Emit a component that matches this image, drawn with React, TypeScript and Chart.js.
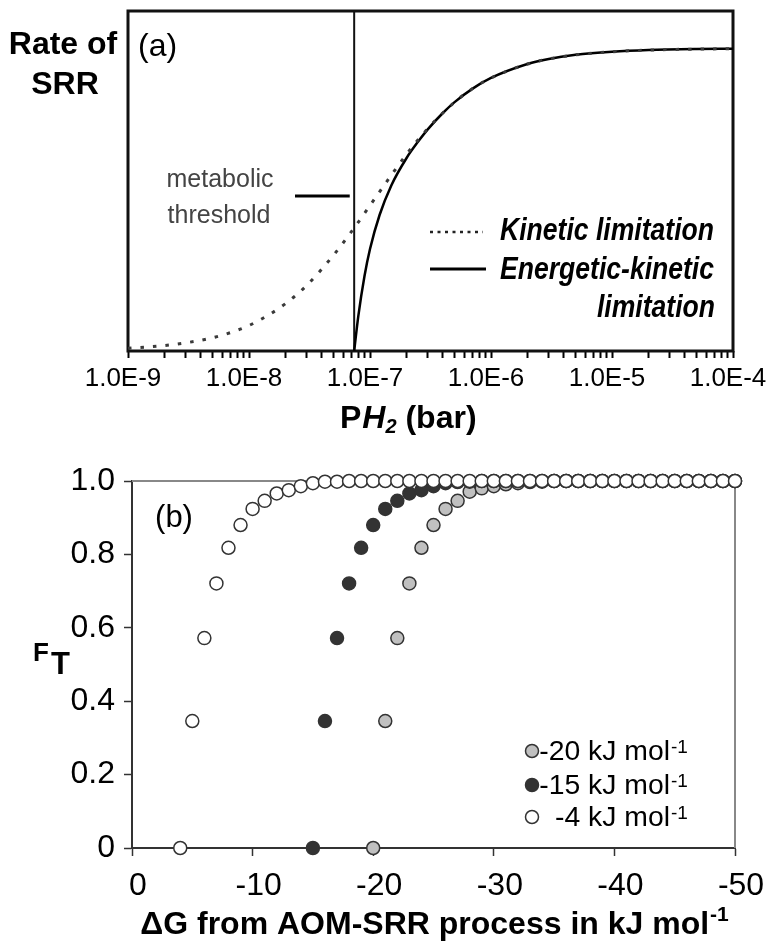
import React, { useEffect, useRef } from "react";
import { Chart, registerables } from "chart.js";

Chart.register(...registerables);

const FAMILY = "'Liberation Sans', Arial, Helvetica, sans-serif";

// ---------- Panel (a): rate of SRR vs PH2 ----------
const kineticP = [1e-9, 2e-9, 3e-9, 5e-9, 7e-9, 1e-8, 1.5e-8, 2e-8, 3e-8, 5e-8, 7.4e-8, 1e-7, 1.5e-7, 2e-7, 3e-7, 5e-7, 7e-7, 1e-6, 2e-6, 3e-6, 5e-6, 1e-5, 2e-5, 5e-5, 1e-4];
const kineticRate = [0.008, 0.016, 0.024, 0.039, 0.054, 0.075, 0.109, 0.139, 0.193, 0.282, 0.362, 0.428, 0.517, 0.578, 0.654, 0.732, 0.771, 0.803, 0.844, 0.859, 0.871, 0.880, 0.885, 0.888, 0.889];
const energeticP = [7.4e-8, 8e-8, 9e-8, 1e-7, 1.2e-7, 1.5e-7, 2e-7, 2.5e-7, 3e-7, 4e-7, 5e-7, 7e-7, 1e-6, 2e-6, 3e-6, 5e-6, 1e-5, 2e-5, 5e-5, 1e-4];
const energeticRate = [0, 0.102, 0.220, 0.300, 0.400, 0.487, 0.567, 0.616, 0.652, 0.700, 0.732, 0.771, 0.803, 0.844, 0.859, 0.871, 0.880, 0.885, 0.888, 0.889];
const thresholdP = 7.4e-8;
const thresholdLineRate = [0, 1];
const thresholdMarkP = [2.4e-8, 6.8e-8];
const thresholdMarkRate = 0.456;
const decades = [1e-9, 1e-8, 1e-7, 1e-6, 1e-5, 1e-4];
const decadeLabels = ["1.0E-9", "1.0E-8", "1.0E-7", "1.0E-6", "1.0E-5", "1.0E-4"];
const minorMultipliers = [2, 3, 4, 5, 6, 7, 8, 9];
const legendA = ["Kinetic limitation", "Energetic-kinetic", "limitation"];

// ---------- Panel (b): FT vs dG ----------
const dgWhite = [-4, -5, -6, -7, -8, -9, -10, -11, -12, -13, -14, -15, -16, -17, -18, -19, -20, -21, -22, -23, -24, -25, -26, -27, -28, -29, -30, -31, -32, -33, -34, -35, -36, -37, -38, -39, -40, -41, -42, -43, -44, -45, -46, -47, -48, -49, -50];
const ftWhite = [0, 0.346, 0.572, 0.721, 0.818, 0.880, 0.924, 0.946, 0.966, 0.975, 0.986, 0.994, 0.998, 0.998, 1, 1, 1, 1, 1, 1, 1, 1, 1, 1, 1, 1, 1, 1, 1, 1, 1, 1, 1, 1, 1, 1, 1, 1, 1, 1, 1, 1, 1, 1, 1, 1, 1];
const dgBlack = [-15, -16, -17, -18, -19, -20, -21, -22, -23, -24, -25, -26, -27, -28, -29, -30, -31, -32, -33, -34, -35, -36, -37, -38, -39, -40, -41, -42, -43, -44, -45, -46, -47, -48, -49, -50];
const ftBlack = [0, 0.346, 0.572, 0.721, 0.818, 0.880, 0.924, 0.946, 0.966, 0.975, 0.986, 0.994, 0.997, 0.998, 1, 1, 1, 1, 1, 1, 1, 1, 1, 1, 1, 1, 1, 1, 1, 1, 1, 1, 1, 1, 1, 1];
const dgGray = [-20, -21, -22, -23, -24, -25, -26, -27, -28, -29, -30, -31, -32, -33, -34, -35, -36, -37, -38, -39, -40, -41, -42, -43, -44, -45, -46, -47, -48, -49, -50];
const ftGray = [0, 0.346, 0.572, 0.721, 0.818, 0.880, 0.924, 0.946, 0.971, 0.980, 0.986, 0.991, 0.994, 0.997, 0.998, 1, 1, 1, 1, 1, 1, 1, 1, 1, 1, 1, 1, 1, 1, 1, 1];
const seriesLabelsB = ["-20 kJ mol", "-15 kJ mol", "-4 kJ mol"];
const seriesFillsB = ["#c0c0c0", "#333333", "#ffffff"];

type TOpts = { align?: CanvasTextAlign; color?: string; sx?: number };
function drawText(ctx: CanvasRenderingContext2D, s: string, x: number, y: number, font: string, o: TOpts = {}) {
  ctx.save();
  ctx.font = font;
  ctx.fillStyle = o.color ?? "#000";
  ctx.textAlign = o.align ?? "left";
  ctx.textBaseline = "middle";
  ctx.translate(x, y);
  ctx.scale(o.sx ?? 1, 1);
  ctx.fillText(s, 0, 0);
  ctx.restore();
}
function textW(ctx: CanvasRenderingContext2D, s: string, font: string) {
  ctx.save();
  ctx.font = font;
  const w = ctx.measureText(s).width;
  ctx.restore();
  return w;
}

const panelAPlugin = {
  id: "panelA",
  beforeDatasetsDraw(chart: any) {
    const { ctx, chartArea: a } = chart;
    ctx.save();
    ctx.strokeStyle = "#111";
    ctx.lineWidth = 3;
    ctx.strokeRect(a.left, a.top, a.right - a.left, a.bottom - a.top);
    ctx.restore();
  },
  afterDraw(chart: any) {
    const ctx: CanvasRenderingContext2D = chart.ctx;
    const B = `bold 32px ${FAMILY}`;
    drawText(ctx, "Rate of", 63, 45, B, { align: "center" });
    drawText(ctx, "SRR", 65, 85, B, { align: "center" });
    drawText(ctx, "(a)", 138, 47, `32px ${FAMILY}`);
    drawText(ctx, "metabolic", 220, 180, `25px ${FAMILY}`, { align: "center", color: "#444" });
    drawText(ctx, "threshold", 219, 216, `25px ${FAMILY}`, { align: "center", color: "#444" });
    // legend
    ctx.save();
    ctx.strokeStyle = "#222";
    ctx.lineWidth = 2.5;
    ctx.setLineDash([3, 4.5]);
    ctx.beginPath();
    ctx.moveTo(430, 232);
    ctx.lineTo(483, 232);
    ctx.stroke();
    ctx.setLineDash([]);
    ctx.lineWidth = 3;
    ctx.strokeStyle = "#000";
    ctx.beginPath();
    ctx.moveTo(430, 269);
    ctx.lineTo(486, 269);
    ctx.stroke();
    ctx.restore();
    const BI = `italic bold 32px ${FAMILY}`;
    drawText(ctx, legendA[0], 500, 231, BI, { sx: 0.83 });
    drawText(ctx, legendA[1], 500, 270, BI, { sx: 0.83 });
    drawText(ctx, legendA[2], 715, 308, BI, { sx: 0.83, align: "right" });
    // x title: P H2 (bar)
    let x = 340;
    const y = 419;
    const fP = `bold 32px ${FAMILY}`;
    const fH = `italic bold 32px ${FAMILY}`;
    const fS = `italic bold 20px ${FAMILY}`;
    drawText(ctx, "P", x, y, fP);
    x += textW(ctx, "P", fP) + 1;
    drawText(ctx, "H", x, y, fH);
    x += textW(ctx, "H", fH);
    drawText(ctx, "2", x, y + 8, fS);
    x += textW(ctx, "2", fS);
    drawText(ctx, " (bar)", x, y, fP);
  },
};

const panelBPlugin = {
  id: "panelB",
  beforeDatasetsDraw(chart: any) {
    const { ctx, chartArea: a } = chart;
    ctx.save();
    ctx.strokeStyle = "#888";
    ctx.lineWidth = 2;
    ctx.beginPath();
    ctx.moveTo(a.left, a.top);
    ctx.lineTo(a.right, a.top);
    ctx.lineTo(a.right, a.bottom);
    ctx.stroke();
    ctx.restore();
  },
  afterDraw(chart: any) {
    const ctx: CanvasRenderingContext2D = chart.ctx;
    drawText(ctx, "(b)", 174, 73, `31px ${FAMILY}`, { align: "center" });
    drawText(ctx, "F", 33, 209, `bold 26px ${FAMILY}`);
    drawText(ctx, "T", 51, 220, `bold 31px ${FAMILY}`);
    // legend
    const rowsY = [306, 340, 372];
    const fMain = `27px ${FAMILY}`;
    const fSup = `19px ${FAMILY}`;
    rowsY.forEach((ry, i) => {
      ctx.save();
      ctx.beginPath();
      ctx.arc(532, ry, 6.5, 0, Math.PI * 2);
      ctx.fillStyle = seriesFillsB[i];
      ctx.fill();
      ctx.lineWidth = 1.5;
      ctx.strokeStyle = "#333";
      ctx.stroke();
      ctx.restore();
      drawText(ctx, seriesLabelsB[i], 670, ry + 1.5, fMain, { align: "right", sx: 1.05 });
      drawText(ctx, "-1", 671, ry - 3, fSup);
    });
    // x title
    const fT = `bold 32px ${FAMILY}`;
    const fTs = `bold 21px ${FAMILY}`;
    const main = "\u0394G from AOM-SRR process in kJ mol";
    const w1 = textW(ctx, main, fT);
    const w2 = textW(ctx, "-1", fTs);
    const x0 = 434 - (w1 + w2) / 2;
    drawText(ctx, main, x0, 480, fT);
    drawText(ctx, "-1", x0 + w1 + 1, 470, fTs);
  },
};

export default function App() {
  const refA = useRef<HTMLCanvasElement | null>(null);
  const refB = useRef<HTMLCanvasElement | null>(null);

  useEffect(() => {
    const tickValsA: number[] = [];
    decades.forEach((d, i) => {
      tickValsA.push(d);
      if (i < decades.length - 1) minorMultipliers.forEach((m) => tickValsA.push(m * d));
    });

    const chartA = new Chart(refA.current as HTMLCanvasElement, {
      type: "scatter",
      data: {
        datasets: [
          {
            label: "Kinetic limitation",
            data: kineticP.map((p, i) => ({ x: p, y: kineticRate[i] })),
            showLine: true,
            borderColor: "#3a3a3a",
            borderWidth: 3,
            borderDash: [3.5, 9],
            pointRadius: 0,
            cubicInterpolationMode: "monotone",
            clip: false,
          },
          {
            label: "Energetic-kinetic limitation",
            data: energeticP.map((p, i) => ({ x: p, y: energeticRate[i] })),
            showLine: true,
            borderColor: "#000",
            borderWidth: 2.5,
            pointRadius: 0,
            cubicInterpolationMode: "monotone",
            clip: false,
          },
          {
            label: "threshold",
            data: thresholdLineRate.map((r) => ({ x: thresholdP, y: r })),
            showLine: true,
            borderColor: "#111",
            borderWidth: 2,
            pointRadius: 0,
            clip: false,
          },
          {
            label: "metabolic threshold",
            data: thresholdMarkP.map((p) => ({ x: p, y: thresholdMarkRate })),
            showLine: true,
            borderColor: "#000",
            borderWidth: 3,
            pointRadius: 0,
            clip: false,
          },
        ],
      } as any,
      options: {
        responsive: false,
        animation: false,
        devicePixelRatio: 1,
        events: [],
        layout: { padding: { left: 128, right: 37, top: 11, bottom: 0 } },
        plugins: { legend: { display: false }, tooltip: { enabled: false } },
        scales: {
          x: {
            type: "logarithmic",
            min: 1e-9,
            max: 1e-4,
            afterBuildTicks: (s: any) => {
              s.ticks = tickValsA.map((v) => ({ value: v }));
            },
            afterFit: (s: any) => {
              s.height = 94;
              s.paddingLeft = 0;
              s.paddingRight = 0;
            },
            ticks: {
              autoSkip: false,
              maxRotation: 0,
              minRotation: 0,
              padding: 5,
              labelOffset: -5,
              color: "#000",
              font: { size: 26, family: FAMILY },
              callback: (value: any) => {
                const e = Math.log10(Number(value));
                const idx = decades.findIndex((d) => Math.abs(Math.log10(d) - e) < 1e-6);
                return idx >= 0 ? decadeLabels[idx] : "";
              },
            },
            grid: {
              display: true,
              drawOnChartArea: false,
              drawTicks: true,
              tickLength: 7,
              color: "#000",
              tickColor: "#000",
              tickWidth: 2,
            },
            border: { display: false },
          },
          y: { display: false, min: 0, max: 1 },
        },
      } as any,
      plugins: [panelAPlugin],
    });

    const pt = (xs: number[], ys: number[]) => xs.map((x, i) => ({ x, y: ys[i] }));
    const chartB = new Chart(refB.current as HTMLCanvasElement, {
      type: "scatter",
      data: {
        datasets: [
          {
            label: "-4 kJ mol-1",
            data: pt(dgWhite, ftWhite),
            backgroundColor: seriesFillsB[2],
            borderColor: "#333",
            pointRadius: 6.5,
            pointBorderWidth: 1.5,
            clip: false,
          },
          {
            label: "-15 kJ mol-1",
            data: pt(dgBlack, ftBlack),
            backgroundColor: seriesFillsB[1],
            borderColor: "#333",
            pointRadius: 6.5,
            pointBorderWidth: 1.5,
            clip: false,
          },
          {
            label: "-20 kJ mol-1",
            data: pt(dgGray, ftGray),
            backgroundColor: seriesFillsB[0],
            borderColor: "#333",
            pointRadius: 6.5,
            pointBorderWidth: 1.5,
            clip: false,
          },
        ],
      } as any,
      options: {
        responsive: false,
        animation: false,
        devicePixelRatio: 1,
        events: [],
        layout: { padding: { left: 0, right: 35, top: 36, bottom: 0 } },
        plugins: { legend: { display: false }, tooltip: { enabled: false } },
        scales: {
          x: {
            type: "linear",
            min: -50,
            max: 0,
            reverse: true,
            afterFit: (s: any) => {
              s.height = 100;
              s.paddingLeft = 0;
              s.paddingRight = 0;
            },
            ticks: {
              stepSize: 10,
              maxRotation: 0,
              padding: 11,
              labelOffset: 6,
              color: "#000",
              font: { size: 32, family: FAMILY },
              callback: (v: any) => (Number(v) === 0 ? "0" : String(Math.round(Number(v)))),
            },
            grid: {
              display: true,
              drawOnChartArea: false,
              drawTicks: true,
              tickLength: 8,
              color: "#333",
              tickColor: "#333",
              tickWidth: 1.5,
            },
            border: { display: true, color: "#333", width: 2 },
          },
          y: {
            type: "linear",
            min: 0,
            max: 1,
            afterFit: (s: any) => {
              s.width = 132;
              s.paddingTop = 0;
              s.paddingBottom = 0;
            },
            ticks: {
              stepSize: 0.2,
              padding: 9,
              color: "#000",
              font: { size: 32, family: FAMILY },
              callback: (v: any) => (Number(v) === 0 ? "0" : Number(v).toFixed(1)),
            },
            grid: {
              display: true,
              drawOnChartArea: false,
              drawTicks: true,
              tickLength: 8,
              color: "#333",
              tickColor: "#333",
              tickWidth: 1.5,
            },
            border: { display: true, color: "#333", width: 2 },
          },
        },
      } as any,
      plugins: [panelBPlugin],
    });

    return () => {
      chartA.destroy();
      chartB.destroy();
    };
  }, []);

  return (
    <div style={{ position: "absolute", left: 0, top: 0, width: 770, height: 948, background: "#fff", overflow: "hidden" }}>
      <canvas
        ref={refA}
        width={770}
        height={445}
        style={{ position: "absolute", left: 0, top: 0, width: "770px", height: "445px" }}
      />
      <canvas
        ref={refB}
        width={770}
        height={503}
        style={{ position: "absolute", left: 0, top: 445, width: "770px", height: "503px" }}
      />
    </div>
  );
}
